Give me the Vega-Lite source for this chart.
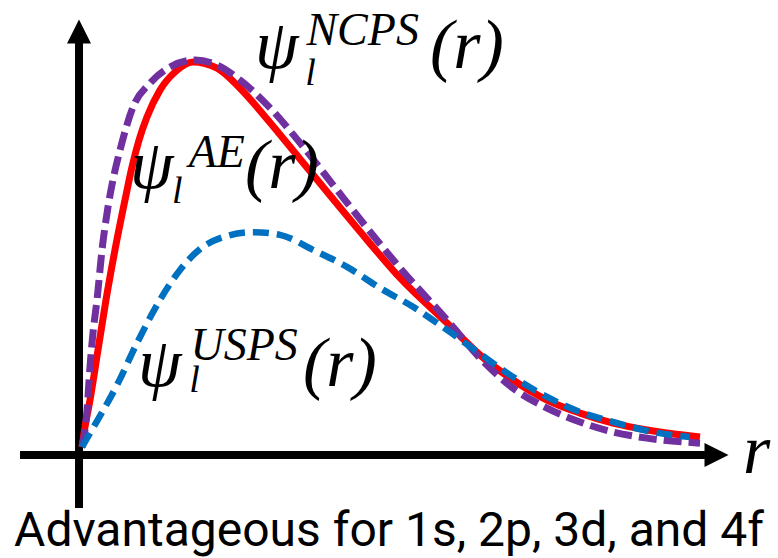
{
  "$schema": "https://vega.github.io/schema/vega-lite/v6.json",
  "width": 778,
  "height": 558,
  "autosize": {"type": "none"},
  "padding": 0,
  "background": "white",
  "config": {"view": {"stroke": null}},
  "datasets": {
    "curves": [
      {"series": "AE", "r": 0, "psi": 0},
      {"series": "AE", "r": 0.04, "psi": 0.044},
      {"series": "AE", "r": 0.129, "psi": 0.122},
      {"series": "AE", "r": 0.258, "psi": 0.252},
      {"series": "AE", "r": 0.387, "psi": 0.382},
      {"series": "AE", "r": 0.532, "psi": 0.512},
      {"series": "AE", "r": 0.694, "psi": 0.642},
      {"series": "AE", "r": 0.806, "psi": 0.727},
      {"series": "AE", "r": 0.919, "psi": 0.797},
      {"series": "AE", "r": 1.048, "psi": 0.857},
      {"series": "AE", "r": 1.258, "psi": 0.927},
      {"series": "AE", "r": 1.5, "psi": 0.974},
      {"series": "AE", "r": 1.79, "psi": 1.0},
      {"series": "AE", "r": 2.177, "psi": 0.984},
      {"series": "AE", "r": 2.548, "psi": 0.932},
      {"series": "AE", "r": 2.984, "psi": 0.852},
      {"series": "AE", "r": 3.516, "psi": 0.748},
      {"series": "AE", "r": 4.048, "psi": 0.644},
      {"series": "AE", "r": 4.597, "psi": 0.538},
      {"series": "AE", "r": 5.129, "psi": 0.439},
      {"series": "AE", "r": 5.887, "psi": 0.322},
      {"series": "AE", "r": 6.419, "psi": 0.239},
      {"series": "AE", "r": 6.952, "psi": 0.174},
      {"series": "AE", "r": 7.5, "psi": 0.122},
      {"series": "AE", "r": 8.032, "psi": 0.088},
      {"series": "AE", "r": 8.565, "psi": 0.062},
      {"series": "AE", "r": 9.113, "psi": 0.044},
      {"series": "AE", "r": 9.968, "psi": 0.026},
      {"series": "NCPS", "r": 0, "psi": 0},
      {"series": "NCPS", "r": 0.048, "psi": 0.044},
      {"series": "NCPS", "r": 0.081, "psi": 0.096},
      {"series": "NCPS", "r": 0.129, "psi": 0.208},
      {"series": "NCPS", "r": 0.177, "psi": 0.296},
      {"series": "NCPS", "r": 0.242, "psi": 0.382},
      {"series": "NCPS", "r": 0.323, "psi": 0.512},
      {"series": "NCPS", "r": 0.419, "psi": 0.623},
      {"series": "NCPS", "r": 0.5, "psi": 0.694},
      {"series": "NCPS", "r": 0.613, "psi": 0.771},
      {"series": "NCPS", "r": 0.823, "psi": 0.883},
      {"series": "NCPS", "r": 1.097, "psi": 0.945},
      {"series": "NCPS", "r": 1.419, "psi": 0.987},
      {"series": "NCPS", "r": 1.823, "psi": 1.005},
      {"series": "NCPS", "r": 2.177, "psi": 0.992},
      {"series": "NCPS", "r": 2.548, "psi": 0.953},
      {"series": "NCPS", "r": 3.032, "psi": 0.881},
      {"series": "NCPS", "r": 3.516, "psi": 0.79},
      {"series": "NCPS", "r": 4.048, "psi": 0.681},
      {"series": "NCPS", "r": 4.597, "psi": 0.569},
      {"series": "NCPS", "r": 5.129, "psi": 0.465},
      {"series": "NCPS", "r": 5.887, "psi": 0.33},
      {"series": "NCPS", "r": 6.419, "psi": 0.231},
      {"series": "NCPS", "r": 6.952, "psi": 0.153},
      {"series": "NCPS", "r": 7.5, "psi": 0.101},
      {"series": "NCPS", "r": 8.032, "psi": 0.065},
      {"series": "NCPS", "r": 8.565, "psi": 0.039},
      {"series": "NCPS", "r": 9.113, "psi": 0.023},
      {"series": "NCPS", "r": 9.968, "psi": 0.01},
      {"series": "USPS", "r": 0, "psi": 0},
      {"series": "USPS", "r": 0.177, "psi": 0.049},
      {"series": "USPS", "r": 0.565, "psi": 0.161},
      {"series": "USPS", "r": 0.887, "psi": 0.27},
      {"series": "USPS", "r": 1.258, "psi": 0.382},
      {"series": "USPS", "r": 1.581, "psi": 0.46},
      {"series": "USPS", "r": 1.903, "psi": 0.514},
      {"series": "USPS", "r": 2.274, "psi": 0.545},
      {"series": "USPS", "r": 2.758, "psi": 0.558},
      {"series": "USPS", "r": 3.194, "psi": 0.551},
      {"series": "USPS", "r": 3.726, "psi": 0.512},
      {"series": "USPS", "r": 4.274, "psi": 0.468},
      {"series": "USPS", "r": 4.806, "psi": 0.413},
      {"series": "USPS", "r": 5.339, "psi": 0.364},
      {"series": "USPS", "r": 5.887, "psi": 0.304},
      {"series": "USPS", "r": 6.419, "psi": 0.242},
      {"series": "USPS", "r": 6.952, "psi": 0.182},
      {"series": "USPS", "r": 7.5, "psi": 0.13},
      {"series": "USPS", "r": 8.032, "psi": 0.091},
      {"series": "USPS", "r": 8.565, "psi": 0.065},
      {"series": "USPS", "r": 9.113, "psi": 0.042},
      {"series": "USPS", "r": 9.806, "psi": 0.026}
    ],
    "axisLines": [
      {"r": -0.048, "psi": -0.1584, "r2": -0.048, "psi2": 1.0494},
      {"r": -1.0, "psi": -0.0208, "r2": 10.065, "psi2": -0.0208}
    ],
    "arrowHeads": [
      {"dir": "up", "r": -0.048, "psi": 1.0792},
      {"dir": "right", "r": 10.234, "psi": -0.0208}
    ],
    "labels": [
      {"part": "main", "text": "ψ", "r": 2.79, "psi": 0.9844},
      {"part": "sub", "text": "l", "r": 3.6, "psi": 0.9403},
      {"part": "sup", "text": "NCPS", "r": 3.62, "psi": 1.0442},
      {"part": "main", "text": "(r)", "r": 5.613, "psi": 0.9844},
      {"part": "main", "text": "ψ", "r": 0.774, "psi": 0.6727},
      {"part": "sub", "text": "l", "r": 1.45, "psi": 0.6338},
      {"part": "sup", "text": "AE", "r": 1.72, "psi": 0.7273},
      {"part": "main", "text": "(r)", "r": 2.629, "psi": 0.6727},
      {"part": "main", "text": "ψ", "r": 0.903, "psi": 0.1584},
      {"part": "sub", "text": "l", "r": 1.73, "psi": 0.1429},
      {"part": "sup", "text": "USPS", "r": 1.75, "psi": 0.226},
      {"part": "main", "text": "(r)", "r": 3.565, "psi": 0.1584},
      {"part": "main", "text": "r", "r": 10.661, "psi": -0.0675}
    ],
    "caption": [
      {"text": "Advantageous for 1s, 2p, 3d, and 4f", "r": 4.952, "psi": -0.2571}
    ]
  },
  "encoding": {
    "x": {"field": "r", "type": "quantitative", "scale": {"domain": [-1.3226, 11.2258], "nice": false, "zero": false}, "axis": null},
    "y": {"field": "psi", "type": "quantitative", "scale": {"domain": [-0.2883, 1.161], "nice": false, "zero": false}, "axis": null}
  },
  "layer": [
    {
      "data": {"name": "axisLines"},
      "mark": {"type": "rule", "color": "black", "strokeWidth": 8, "strokeCap": "butt"},
      "encoding": {
        "x2": {"field": "r2"},
        "y2": {"field": "psi2"}
      }
    },
    {
      "data": {"name": "arrowHeads"},
      "mark": {"type": "point", "filled": true, "color": "black", "size": 576, "opacity": 1, "strokeWidth": 0},
      "encoding": {
        "shape": {"field": "dir", "type": "nominal", "legend": null, "scale": {"domain": ["up", "right"], "range": ["M0,-1L1,1L-1,1Z", "M1,0L-1,-1L-1,1Z"]}}
      }
    },
    {
      "data": {"name": "curves"},
      "transform": [{"filter": "datum.series === 'AE'"}],
      "mark": {"type": "line", "color": "#FF0000", "strokeWidth": 7, "interpolate": "monotone"},
      "encoding": {"order": {"field": "r", "type": "quantitative"}}
    },
    {
      "data": {"name": "curves"},
      "transform": [{"filter": "datum.series === 'NCPS'"}],
      "mark": {"type": "line", "color": "#7030A0", "strokeWidth": 7, "strokeDash": [18, 7], "interpolate": "monotone"},
      "encoding": {"order": {"field": "r", "type": "quantitative"}}
    },
    {
      "data": {"name": "curves"},
      "transform": [{"filter": "datum.series === 'USPS'"}],
      "mark": {"type": "line", "color": "#0070C0", "strokeWidth": 6.5, "strokeDash": [16, 8], "interpolate": "monotone"},
      "encoding": {"order": {"field": "r", "type": "quantitative"}}
    },
    {
      "data": {"name": "labels"},
      "transform": [{"filter": "datum.part === 'main'"}],
      "mark": {"type": "text", "font": "Liberation Serif", "fontStyle": "italic", "fontSize": 70, "align": "left", "baseline": "alphabetic", "color": "black"},
      "encoding": {"text": {"field": "text"}}
    },
    {
      "data": {"name": "labels"},
      "transform": [{"filter": "datum.part === 'sup'"}],
      "mark": {"type": "text", "font": "Liberation Serif", "fontStyle": "italic", "fontSize": 46, "align": "left", "baseline": "alphabetic", "color": "black"},
      "encoding": {"text": {"field": "text"}}
    },
    {
      "data": {"name": "labels"},
      "transform": [{"filter": "datum.part === 'sub'"}],
      "mark": {"type": "text", "font": "Liberation Serif", "fontStyle": "italic", "fontSize": 38, "align": "left", "baseline": "alphabetic", "color": "black"},
      "encoding": {"text": {"field": "text"}}
    },
    {
      "data": {"name": "caption"},
      "mark": {"type": "text", "font": "Roboto", "fontSize": 48, "align": "center", "baseline": "alphabetic", "color": "black"},
      "encoding": {"text": {"field": "text"}}
    }
  ]
}
